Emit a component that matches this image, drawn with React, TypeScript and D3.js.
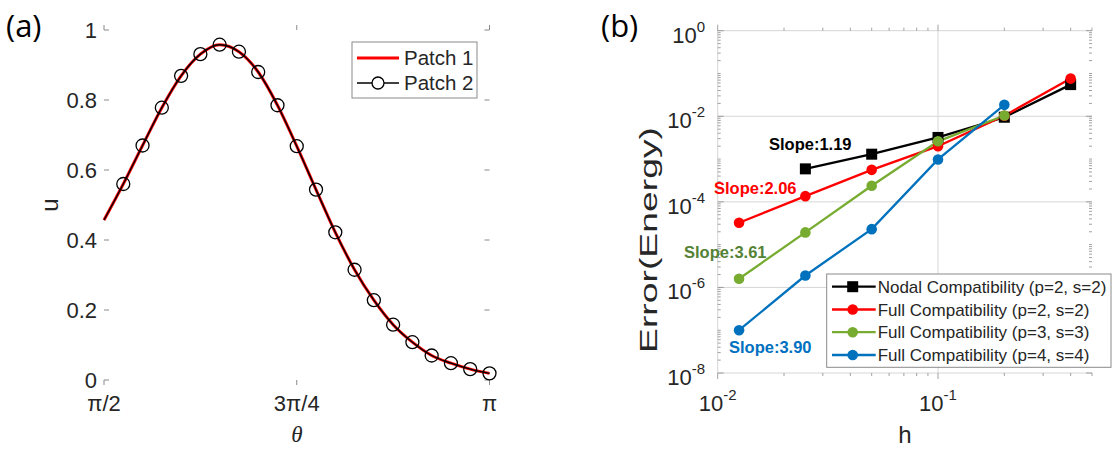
import React from 'react';
import * as d3 from 'd3';

// ---- panel (a) data: theta in units of pi
const thetaOverPi = [
  0.5, 0.525, 0.55, 0.575, 0.6, 0.625, 0.65, 0.675, 0.7, 0.725, 0.75,
  0.775, 0.8, 0.825, 0.85, 0.875, 0.9, 0.925, 0.95, 0.975, 1.0,
];
const patch1U = [
  0.457, 0.56, 0.67, 0.778, 0.869, 0.931, 0.958, 0.938, 0.88, 0.785, 0.668,
  0.544, 0.422, 0.315, 0.228, 0.158, 0.108, 0.07, 0.048, 0.031, 0.019,
];
const patch2U = [
  0.457, 0.56, 0.67, 0.778, 0.869, 0.931, 0.958, 0.938, 0.88, 0.785, 0.668,
  0.544, 0.422, 0.315, 0.228, 0.158, 0.108, 0.07, 0.048, 0.031, 0.019,
];
const uTicks = [0, 0.2, 0.4, 0.6, 0.8, 1];
const thetaTicks = [0.5, 0.75, 1];
const thetaTickLabels = ['π/2', '3π/4', 'π'];
const legendA = ['Patch 1', 'Patch 2'];

// ---- panel (b) data
const hValues = [0.0125, 0.025, 0.05, 0.1, 0.2, 0.4];
const nodalP2 = [null, 5.9e-4, 1.3e-3, 3.2e-3, 9.5e-3, 0.055];
const fullP2 = [3.25e-5, 1.36e-4, 5.6e-4, 2.0e-3, 0.0103, 0.076];
const fullP3 = [1.6e-6, 1.93e-5, 2.37e-4, 2.6e-3, 0.0104, null];
const fullP4 = [1.0e-7, 1.9e-6, 2.3e-5, 9.8e-4, 0.0185, null];
const seriesNames = [
  'Nodal Compatibility (p=2, s=2)',
  'Full Compatibility (p=2, s=2)',
  'Full Compatibility (p=3, s=3)',
  'Full Compatibility (p=4, s=4)',
];
const slopeLabels = ['Slope:1.19', 'Slope:2.06', 'Slope:3.61', 'Slope:3.90'];
const errTickExps = [0, -2, -4, -6, -8];
const hTickExps = [-2, -1];

const FONT = "'Liberation Sans', Arial, Helvetica, sans-serif";
const TXT = '#262626';
const AX = '#8a8a8a';

const seriesColors = ['#000000', '#ff0000', '#77ac30', '#0072bd'];
const slopeColors = ['#000000', '#ff0000', '#548235', '#0070c0'];
const slopePos = [
  [769, 150],
  [714, 194],
  [684, 257.5],
  [729, 352.5],
];

export default function App() {
  // panel (a)
  const xL = d3.scaleLinear().domain([0.5, 1]).range([104, 489.5]);
  const yL = d3.scaleLinear().domain([0, 1]).range([380, 30]);
  const curveA = (vals: number[]) =>
    d3
      .line<number>()
      .x((_, i) => xL(thetaOverPi[i]))
      .y((d) => yL(d))
      .curve(d3.curveMonotoneX)(vals) || '';

  // panel (b)
  const xR = d3.scaleLog().domain([0.01, 0.5]).range([717.7, 1092]);
  const yR = d3.scaleLog().domain([1e-8, 1]).range([373, 30.7]);
  const lineR = d3
    .line<number | null>()
    .defined((d) => d !== null)
    .x((_, i) => xR(hValues[i]))
    .y((d) => yR(d as number));
  const allSeries = [nodalP2, fullP2, fullP3, fullP4];

  const [ax0, ax1] = xL.range();
  const [ay1, ay0] = yL.range();
  const [bx0, bx1] = xR.range();
  const [by1, by0] = yR.range();

  const yMinor = yR.ticks();
  const xMinor = xR.ticks();
  const isMajorY = (v: number) => errTickExps.some((e) => Math.abs(Math.log10(v) - e) < 1e-6);
  const isMajorX = (v: number) => hTickExps.some((e) => Math.abs(Math.log10(v) - e) < 1e-6);

  const legendRows = [286.7, 309.5, 332.2, 355];

  return (
    <svg
      width={1113}
      height={450}
      style={{ position: 'absolute', left: 0, top: 0, background: '#fff' }}
      fontFamily={FONT}
    >
      <rect x={0} y={0} width={1113} height={450} fill="#fff" />

      {/* ================= panel (a) ================= */}
      <text x={6} y={37} fontSize={31} fill="#000" fontFamily="'Open Sans', 'Liberation Sans', sans-serif">
        (a)
      </text>

      {/* ticks */}
      {uTicks.map((t) => (
        <g key={'ut' + t}>
          <line x1={ax0} x2={ax0 + 5} y1={yL(t)} y2={yL(t)} stroke={AX} />
          <line x1={ax1} x2={ax1 - 5} y1={yL(t)} y2={yL(t)} stroke={AX} />
          <text x={97} y={yL(t) + 8} fontSize={22} textAnchor="end" fill={TXT}>
            {t}
          </text>
        </g>
      ))}
      {thetaTicks.map((t, i) => (
        <g key={'tt' + t}>
          <line x1={xL(t)} x2={xL(t)} y1={ay0} y2={ay0 - 5} stroke={AX} />
          <line x1={xL(t)} x2={xL(t)} y1={ay1} y2={ay1 + 5} stroke={AX} />
          <text x={xL(t)} y={411} fontSize={22} textAnchor="middle" fill={TXT}>
            {thetaTickLabels[i]}
          </text>
        </g>
      ))}
      <rect x={ax0} y={ay1} width={ax1 - ax0} height={ay0 - ay1} fill="none" stroke={AX} strokeWidth={1} />

      <text
        x={297}
        y={442}
        fontSize={23}
        textAnchor="middle"
        fill={TXT}
        fontStyle="italic"
        fontFamily="'Liberation Serif', 'DejaVu Serif', serif"
      >
        θ
      </text>
      <text
        transform={`translate(58, ${(ay0 + ay1) / 2}) rotate(-90)`}
        fontSize={24}
        textAnchor="middle"
        fill={TXT}
      >
        u
      </text>

      {/* curves */}
      <path d={curveA(patch1U)} fill="none" stroke="#ff0000" strokeWidth={3} />
      <path d={curveA(patch2U)} fill="none" stroke="#000" strokeWidth={1.4} />
      {patch2U.map((u, i) =>
        i === 0 ? null : (
          <circle key={'c' + i} cx={xL(thetaOverPi[i])} cy={yL(u)} r={6.5} fill="none" stroke="#000" strokeWidth={1.3} />
        )
      )}

      {/* legend (a) */}
      <rect x={352} y={42} width={125} height={56} fill="#fff" stroke={AX} />
      <line x1={357} x2={399} y1={58} y2={58} stroke="#ff0000" strokeWidth={3} />
      <line x1={357} x2={399} y1={83} y2={83} stroke="#000" strokeWidth={1.4} />
      <circle cx={378} cy={83} r={6} fill="#fff" stroke="#000" strokeWidth={1.3} />
      {legendA.map((n, i) => (
        <text key={n} x={404} y={65 + i * 25} fontSize={20.5} fill={TXT}>
          {n}
        </text>
      ))}

      {/* ================= panel (b) ================= */}
      <text x={601} y={37} fontSize={31} fill="#000" fontFamily="'Open Sans', 'Liberation Sans', sans-serif">
        (b)
      </text>

      {/* grid */}
      {errTickExps.map((e) => (
        <line key={'gy' + e} x1={bx0} x2={bx1} y1={yR(10 ** e)} y2={yR(10 ** e)} stroke="#d6d6d6" />
      ))}
      {hTickExps.map((e) => (
        <line key={'gx' + e} x1={xR(10 ** e)} x2={xR(10 ** e)} y1={by0} y2={by1} stroke="#d6d6d6" />
      ))}

      {/* ticks */}
      {yMinor.map((v, i) => {
        const len = isMajorY(v) ? 6 : 3;
        return (
          <g key={'ym' + i}>
            <line x1={bx0} x2={bx0 + len} y1={yR(v)} y2={yR(v)} stroke={AX} strokeWidth={0.8} />
            <line x1={bx1} x2={bx1 - len} y1={yR(v)} y2={yR(v)} stroke={AX} strokeWidth={0.8} />
          </g>
        );
      })}
      {xMinor.map((v, i) => {
        const len = isMajorX(v) ? 6 : 3;
        return (
          <g key={'xm' + i}>
            <line x1={xR(v)} x2={xR(v)} y1={by0} y2={by0 - len} stroke={AX} strokeWidth={0.8} />
            <line x1={xR(v)} x2={xR(v)} y1={by1} y2={by1 + len} stroke={AX} strokeWidth={0.8} />
          </g>
        );
      })}
      <rect x={bx0} y={by1} width={bx1 - bx0} height={by0 - by1} fill="none" stroke={AX} strokeWidth={1} />

      {errTickExps.map((e) => (
        <text key={'yl' + e} x={705} y={yR(10 ** e) + 12} fontSize={22} textAnchor="end" fill={TXT}>
          10
          <tspan fontSize={15} dy={-11}>
            {e}
          </tspan>
        </text>
      ))}
      {hTickExps.map((e) => (
        <text key={'xl' + e} x={xR(10 ** e)} y={411} fontSize={22} textAnchor="middle" fill={TXT}>
          10
          <tspan fontSize={15} dy={-11}>
            {e}
          </tspan>
        </text>
      ))}

      <text x={(bx0 + bx1) / 2} y={443} fontSize={24} textAnchor="middle" fill={TXT}>
        h
      </text>
      <text
        transform={`translate(657, 240) rotate(-90)`}
        fontSize={23}
        textAnchor="middle"
        fill={TXT}
        textLength={226}
        lengthAdjust="spacingAndGlyphs"
      >
        Error(Energy)
      </text>

      {/* series */}
      {allSeries.map((s, si) => (
        <path key={'s' + si} d={lineR(s) || ''} fill="none" stroke={seriesColors[si]} strokeWidth={2.3} />
      ))}
      {allSeries.map((s, si) =>
        s.map((v, i) =>
          v === null ? null : si === 0 ? (
            <rect
              key={'m' + si + '-' + i}
              x={xR(hValues[i]) - 5.5}
              y={yR(v) - 5.5}
              width={11}
              height={11}
              fill="#000"
            />
          ) : (
            <circle key={'m' + si + '-' + i} cx={xR(hValues[i])} cy={yR(v)} r={5.3} fill={seriesColors[si]} />
          )
        )
      )}

      {/* slope labels */}
      {slopeLabels.map((l, i) => (
        <text
          key={l}
          x={slopePos[i][0]}
          y={slopePos[i][1]}
          fontSize={16.5}
          fontWeight="bold"
          fill={slopeColors[i]}
        >
          {l}
        </text>
      ))}

      {/* legend (b) */}
      <rect x={826.7} y={274} width={284.3} height={93.3} fill="#fff" stroke={AX} />
      {seriesNames.map((n, i) => (
        <g key={n}>
          <line x1={832} x2={875.7} y1={legendRows[i]} y2={legendRows[i]} stroke={seriesColors[i]} strokeWidth={2.3} />
          {i === 0 ? (
            <rect x={852.7 - 5.5} y={legendRows[i] - 5.5} width={11} height={11} fill="#000" />
          ) : (
            <circle cx={852.7} cy={legendRows[i]} r={5.3} fill={seriesColors[i]} />
          )}
          <text x={877.7} y={legendRows[i] + 6} fontSize={17} fill={TXT}>
            {n}
          </text>
        </g>
      ))}
    </svg>
  );
}
